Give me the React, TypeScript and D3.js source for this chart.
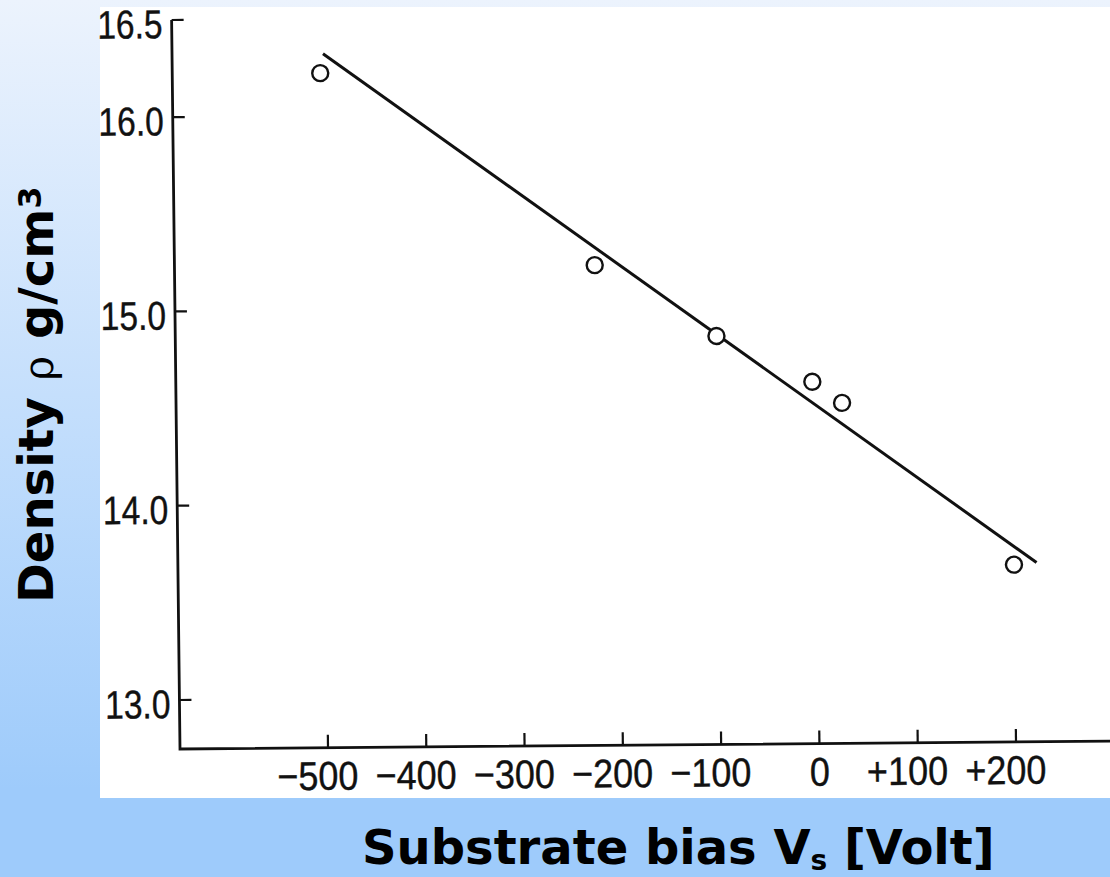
import React from 'react';
import * as d3 from 'd3';

// Data
const biasV = [-500, -223, -100, -3, 27, 200];
const density = [16.22, 15.22, 14.85, 14.61, 14.5, 13.66];
const fitBias = [-497, 223];
const fitDensity = [16.32, 13.67];
const xTicks = [-500, -400, -300, -200, -100, 0, 100, 200];
const yTicks = [13.0, 14.0, 15.0, 16.0, 16.5];

const W = 1110;
const H = 877;
const plotLeft = 180;
const plotBottom = 749;
const plotRight = 1120;

const tickFont = "'Liberation Sans', Arial, sans-serif";
const labelFont = "'DejaVu Sans', Verdana, sans-serif";
const squeezeX = 0.9;
const squeezeY = 0.84;

export default function App() {
  const x = d3.scaleLinear().domain([-500, 200]).range([328, 1016]);
  const y = d3.scaleLinear().domain([13, 16.5]).range([700, 20]);
  const line = d3
    .line<[number, number]>()
    .x((d) => x(d[0]))
    .y((d) => y(d[1]));
  const fitPts: [number, number][] = fitBias.map((v, i) => [v, fitDensity[i]]);

  // slight skew of the scanned figure
  const shearB = -0.0085;
  const shearC = 0.0115;
  const transform = `matrix(1,${shearB},${shearC},1,${-shearC * plotBottom},${-shearB * plotLeft})`;

  const fmtX = (v: number) => (v < 0 ? `\u2212${Math.abs(v)}` : v > 0 ? `+${v}` : '0');
  const digitHalf = 10;

  return (
    <svg
      width={W}
      height={H}
      style={{ position: 'absolute', left: 0, top: 0, display: 'block' }}
    >
      <defs>
        <linearGradient id="bg" x1="0" y1="0" x2="0" y2="1">
          <stop offset="0" stopColor="#ecf3fd" />
          <stop offset="0.9" stopColor="#9ecbfb" />
          <stop offset="1" stopColor="#9ecbfb" />
        </linearGradient>
      </defs>
      <rect x={0} y={0} width={W} height={H} fill="url(#bg)" />
      <rect x={100} y={7} width={W - 100} height={791} fill="#ffffff" />

      <g transform={transform}>
        {/* axes */}
        <path
          d={`M${plotLeft},${y(16.5)} V${plotBottom} H${plotRight}`}
          fill="none"
          stroke="#111"
          strokeWidth={2.8}
        />
        {yTicks.map((v) => (
          <g key={`y${v}`}>
            <line x1={plotLeft} x2={plotLeft + 12} y1={y(v)} y2={y(v)} stroke="#111" strokeWidth={2.2} />
            <text
              transform={`translate(${plotLeft - 9},${y(v) + 18}) scale(${squeezeY},1)`}
              textAnchor="end"
              fontFamily={tickFont}
              fontSize={40}
              fill="#111"
              stroke="#111"
              strokeWidth={0.4}
            >
              {v.toFixed(1)}
            </text>
          </g>
        ))}
        {xTicks.map((v) => (
          <g key={`x${v}`}>
            <line x1={x(v)} x2={x(v)} y1={plotBottom} y2={plotBottom - 13} stroke="#111" strokeWidth={2.2} />
            <text
              transform={`translate(${x(v) + String(Math.abs(v)).length * digitHalf},${plotBottom + 42}) scale(${squeezeX},1)`}
              textAnchor="end"
              fontFamily={tickFont}
              fontSize={40}
              fill="#111"
              stroke="#111"
              strokeWidth={0.4}
            >
              {fmtX(v)}
            </text>
          </g>
        ))}

        {/* fitted line */}
        <path d={line(fitPts) || ''} fill="none" stroke="#111" strokeWidth={3} />

        {/* data points */}
        {biasV.map((v, i) => (
          <circle
            key={`p${i}`}
            cx={x(v)}
            cy={y(density[i])}
            r={8}
            fill="#ffffff"
            stroke="#111"
            strokeWidth={2.4}
          />
        ))}
      </g>

      {/* axis titles */}
      <text
        transform="translate(53,603) rotate(-90)"
        fontFamily={labelFont}
        fontWeight="bold"
        fontSize={48}
        fill="#000"
      >
        <tspan>Density </tspan>
        <tspan fontWeight="normal" fontSize={42} fontFamily="'DejaVu Serif', serif">ρ</tspan>
        <tspan> g/cm</tspan>
        <tspan fontSize={32} dy={-12}>3</tspan>
      </text>
      <text x={362} y={864} fontFamily={labelFont} fontWeight="bold" fontSize={48} fill="#000">
        <tspan>Substrate bias V</tspan>
        <tspan fontSize={28} dy={6}>s</tspan>
        <tspan dy={-6}> [Volt]</tspan>
      </text>
    </svg>
  );
}
